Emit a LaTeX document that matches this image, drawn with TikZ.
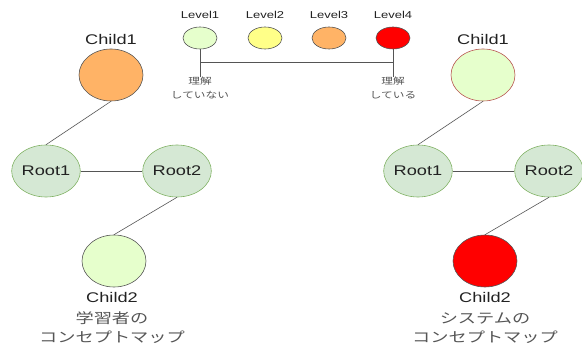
\documentclass[tikz,border=0pt]{standalone}
\usepackage{fontspec}
\setmainfont{Liberation Sans}
\newfontfamily\lab[FakeStretch=1.3]{Liberation Sans}
\newfontfamily\jp[FakeStretch=1.3]{Noto Sans CJK JP}
\usetikzlibrary{shapes.geometric}
\definecolor{rootfill}{HTML}{D5E8D4}
\definecolor{rootline}{HTML}{82B366}
\definecolor{lv1}{HTML}{E6FFCC}
\definecolor{lv2}{HTML}{FFFF88}
\definecolor{lv3}{HTML}{FFB366}
\definecolor{lv4}{HTML}{FF0000}
\definecolor{edgec}{HTML}{555555}
\definecolor{outl}{HTML}{555555}
\definecolor{brownl}{HTML}{B85450}
\definecolor{txt}{HTML}{222222}
\definecolor{jtxt}{HTML}{555555}
\tikzset{
  big/.style={ellipse, minimum width=64pt, minimum height=52pt, inner sep=0pt, draw=outl, line width=0.6pt},
  rootnode/.style={big, fill=rootfill, draw=rootline, font=\lab\fontsize{14}{16}\selectfont, text=txt},
  lvl/.style={ellipse, minimum width=34pt, minimum height=22pt, inner sep=0pt, draw=outl, line width=0.6pt},
  lbl/.style={font=\lab\fontsize{14}{16}\selectfont, text=txt, inner sep=0pt},
  lvlbl/.style={font=\lab\fontsize{10}{12}\selectfont, text=txt, inner sep=0pt},
  jsmall/.style={font=\jp\fontsize{9}{14}\selectfont, text=jtxt, align=center, inner sep=0pt, anchor=north},
  jbig/.style={font=\jp\fontsize{14}{19}\selectfont, text=jtxt, align=center, inner sep=0pt},
  conn/.style={draw=edgec, line width=0.6pt}
}
\begin{document}
\begin{tikzpicture}[x=1pt,y=-1pt]
\useasboundingbox (0,0) rectangle (582,350);
% legend
\node[lvl, fill=lv1] (L1) at (200,38) {};
\node[lvl, fill=lv2] (L2) at (265,38) {};
\node[lvl, fill=lv3] (L3) at (329,38) {};
\node[lvl, fill=lv4] (L4) at (393,38) {};
\node[lvlbl] (t1) at (200,15) {Level1};
\node[lvlbl] (t2) at (265,15) {Level2};
\node[lvlbl] (t3) at (329,15) {Level3};
\node[lvlbl] (t4) at (393,15) {Level4};
\node[jsmall] (u1) at (200,77) {理解\\していない};
\node[jsmall] (u4) at (393,77) {理解\\している};
\coordinate (hl) at (0,62);
\draw[conn] (L1.south) -- (u1.north);
\draw[conn] (L4.south) -- (u4.north);
\draw[conn] (L1.south |- hl) -- (L4.south |- hl);
% left map
\node[big, fill=lv3] (lc1) at (111,75) {};
\node[lbl] (lc1t) at (111,39) {Child1};
\node[rootnode] (lr1) at (46,171) {Root1};
\node[rootnode, minimum width=62pt] (lr2) at (177,171) {Root2};
\node[big, fill=lv1] (lc2) at (114,261) {};
\node[lbl] (lc2t) at (112,297) {Child2};
\node[jbig] (lj) at (112,328) {学習者の\\コンセプトマップ};
\draw[conn] (lc1.south) -- (lr1.north);
\draw[conn] (lr1.east) -- (lr2.west);
\draw[conn] (lr2.south) -- (lc2.north);
% right map
\node[big, fill=lv1, draw=brownl] (rc1) at (483,75) {};
\node[lbl] (rc1t) at (483,39) {Child1};
\node[rootnode] (rr1) at (418,171) {Root1};
\node[rootnode, minimum width=62pt] (rr2) at (549,171) {Root2};
\node[big, fill=lv4] (rc2) at (485,261) {};
\node[lbl] (rc2t) at (485,297) {Child2};
\node[jbig] (rj) at (485,328) {システムの\\コンセプトマップ};
\draw[conn] (rc1.south) -- (rr1.north);
\draw[conn] (rr1.east) -- (rr2.west);
\draw[conn] (rr2.south) -- (rc2.north);
\end{tikzpicture}
\end{document}
